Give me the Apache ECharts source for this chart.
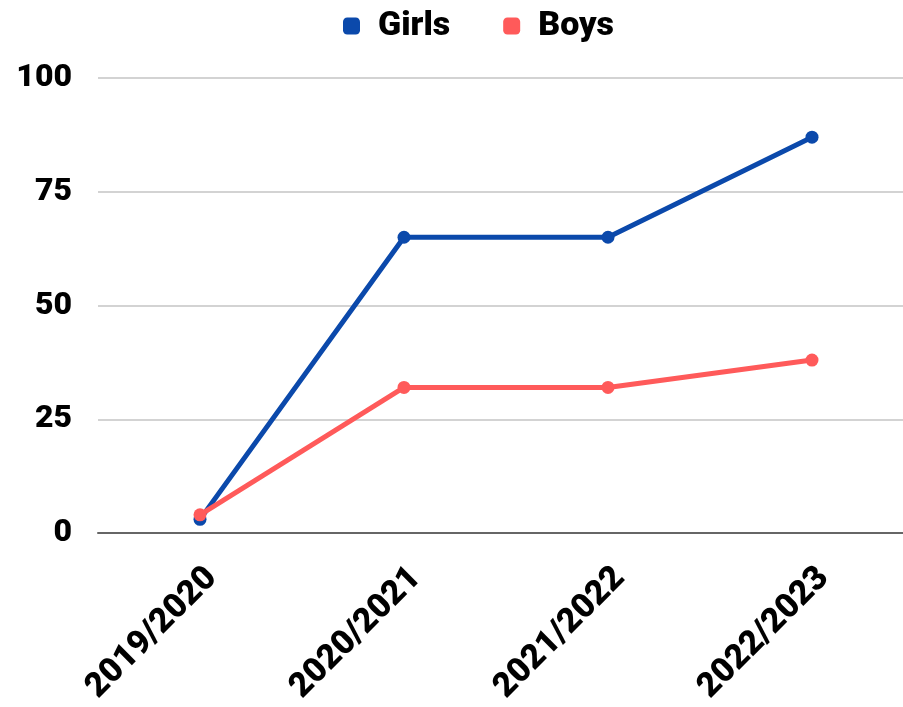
<!DOCTYPE html>
<html>
<head>
<meta charset="utf-8">
<script src="https://cdn.jsdelivr.net/npm/echarts@6/dist/echarts.min.js"></script>
<style>
  html, body { margin: 0; padding: 0; background: #fff; }
  #main { width: 903px; height: 707px; }
</style>
</head>
<body>
<div id="main"></div>
<script>
// data
var years = ['2019/2020', '2020/2021', '2021/2022', '2022/2023'];
var girls = [3, 65, 65, 87];
var boys = [4, 32, 32, 38];
var yTicks = [0, 25, 50, 75, 100];

var chart = echarts.init(document.getElementById('main'));
var font = 'Roboto, "Liberation Sans", sans-serif';

chart.setOption({
  color: ['#0b49ab', '#ff5a5a'],
  animation: false,
  legend: {
    top: 9,
    left: 343,
    padding: 0,
    icon: 'roundRect',
    itemWidth: 17,
    itemHeight: 17,
    itemGap: 53,
    textStyle: { fontFamily: font, fontWeight: 900, fontSize: 34, color: '#000', padding: [0, 0, 0, 13] },
    data: ['Girls', 'Boys']
  },
  grid: {
    left: 98,
    top: 78,
    width: 816,
    height: 455,
    containLabel: false,
    outerBoundsMode: 'none'
  },
  xAxis: {
    type: 'category',
    data: years,
    boundaryGap: true,
    axisLine: { lineStyle: { color: '#666', width: 2 } },
    axisTick: { show: false },
    axisLabel: {
      rotate: 45,
      margin: 28,
      interval: 0,
      // empty first line pushes the text a bit off the tick, like the original
      formatter: function (v) { return '\n' + v; },
      lineHeight: 34,
      fontFamily: font,
      fontWeight: 900,
      fontSize: 34,
      color: '#000'
    }
  },
  yAxis: {
    type: 'value',
    min: yTicks[0],
    max: yTicks[yTicks.length - 1],
    interval: 25,
    axisLine: { show: false },
    axisTick: { show: false },
    splitLine: { lineStyle: { color: '#c4c4c4', width: 1.5 } },
    axisLabel: {
      margin: 26,
      fontFamily: font,
      fontWeight: 900,
      fontSize: 32,
      color: '#000'
    }
  },
  series: [
    {
      name: 'Girls',
      type: 'line',
      data: girls,
      symbol: 'circle',
      symbolSize: 13,
      lineStyle: { width: 5 }
    },
    {
      name: 'Boys',
      type: 'line',
      data: boys,
      symbol: 'circle',
      symbolSize: 13,
      lineStyle: { width: 5 }
    }
  ]
});
</script>
</body>
</html>
